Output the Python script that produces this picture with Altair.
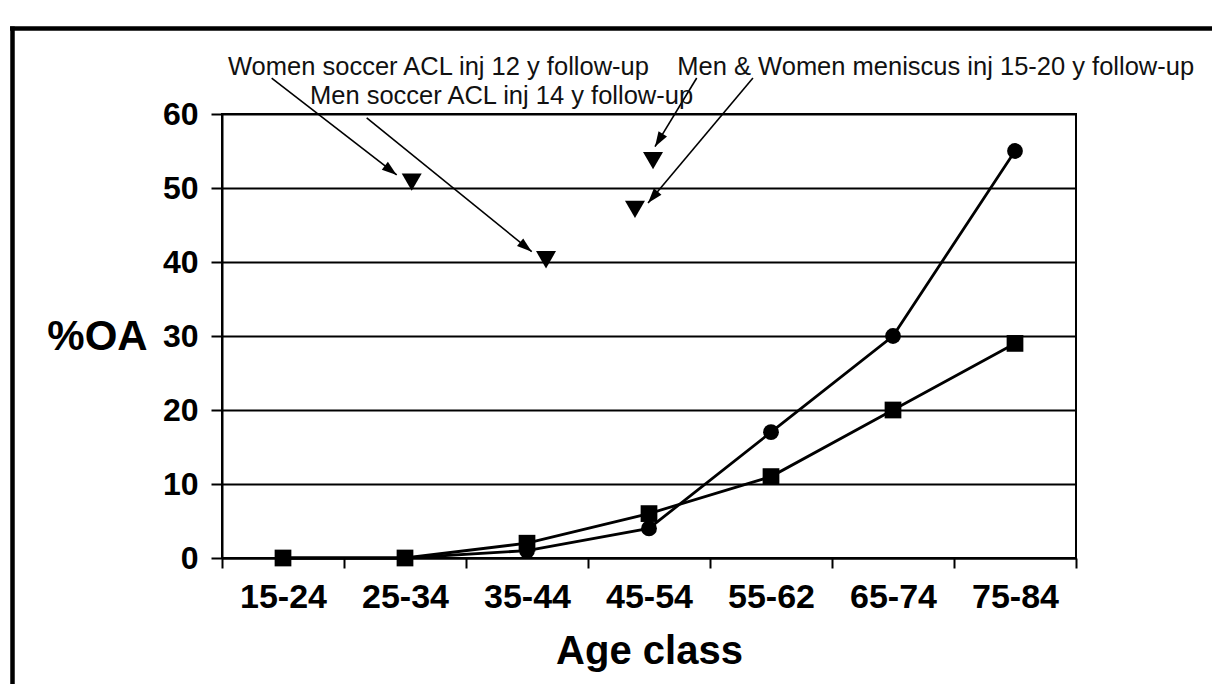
import math
import altair as alt
import pandas as pd

# ---------------- data ----------------
age_classes = ["15-24", "25-34", "35-44", "45-54", "55-62", "65-74", "75-84"]
oa_circles = [0, 0, 1, 4, 17, 30, 55]
oa_squares = [0, 0, 2, 6, 11, 20, 29]

# injury cohorts (position on the age-class axis in class units, %OA)
injury_names = ["Women soccer ACL", "Men soccer ACL", "Meniscus A", "Meniscus B"]
injury_pos = [1.555, 2.656, 3.533, 3.385]
injury_oa = [50.8, 40.3, 53.7, 47.1]

# annotation texts (position in axis units)
note_texts = [
    "Women soccer ACL inj 12 y follow-up",
    "Men soccer ACL inj 14 y follow-up",
    "Men & Women meniscus inj 15-20 y follow-up",
]
note_pos = [0.049, 0.721, 3.732]
note_oa = [65.27, 61.4, 65.27]

# arrows (start -> tip, in axis units)
arrow_x = [0.407, 1.186, 3.891, 4.352]
arrow_y = [64.86, 59.46, 64.86, 64.86]
arrow_x2 = [1.432, 2.539, 3.549, 3.492]
arrow_y2 = [51.76, 41.39, 55.58, 47.97]

# ---------------- layout ----------------
W, H = 854, 444
n = len(age_classes)
PX_X = W / n      # pixels per class unit
PX_Y = H / 60.0   # pixels per %OA

line_df = pd.DataFrame({
    "cls": age_classes * 2,
    "pos": [i + 0.5 for i in range(n)] * 2,
    "oa": oa_circles + oa_squares,
    "series": ["circles"] * n + ["squares"] * n,
})
inj_df = pd.DataFrame({"name": injury_names, "pos": injury_pos, "oa": injury_oa})
note_df = pd.DataFrame({"txt": note_texts, "pos": note_pos, "oa": note_oa})
angs = []
for x1, y1, x2, y2 in zip(arrow_x, arrow_y, arrow_x2, arrow_y2):
    dx = (x2 - x1) * PX_X
    dy = -(y2 - y1) * PX_Y
    angs.append(math.degrees(math.atan2(dx, -dy)) % 360)
arrow_df = pd.DataFrame({"pos": arrow_x, "oa": arrow_y, "pos2": arrow_x2, "oa2": arrow_y2, "ang": angs})

FONT = "Liberation Sans"
cats_js = "[" + ",".join("'" + c + "'" for c in age_classes) + "]"

xscale = alt.Scale(domain=[0, n], nice=False, zero=False)
yscale = alt.Scale(domain=[0, 60], nice=False)

xaxis = alt.Axis(
    values=list(range(n + 1)), title="Age class",
    labelExpr=f"datum.value < {n} ? {cats_js}[datum.value] : ''",
    labelOffset=PX_X / 2, labelPadding=12, labelFont=FONT, labelFontSize=34,
    labelFontWeight="bold", labelColor="black", labelFlush=False, labelOverlap=False,
    labelAlign="center", tickSize=10, tickWidth=2, tickColor="black",
    domainColor="black", domainWidth=2, grid=False,
    titleFont=FONT, titleFontSize=40, titleFontWeight="bold", titleColor="black",
    titleY=105, titleBaseline="alphabetic",
)
yaxis = alt.Axis(
    values=list(range(0, 61, 10)), title="%OA",
    labelPadding=13, labelFont=FONT, labelFontSize=32, labelFontWeight="bold",
    labelColor="black", tickSize=11, tickWidth=2, tickColor="black",
    domainColor="black", domainWidth=2, grid=True, gridColor="black", gridWidth=2,
    titleFont=FONT, titleFontSize=42, titleFontWeight="bold", titleColor="black",
    titleAngle=0, titleAlign="center", titleBaseline="middle", titleX=-125, titleY=222,
)

X = alt.X("pos:Q", scale=xscale, axis=xaxis)
Y = alt.Y("oa:Q", scale=yscale, axis=yaxis)

base_lines = alt.Chart(line_df)
lines = base_lines.mark_line(color="black", strokeWidth=2.8).encode(
    x=X, y=Y, detail="series:N", order="pos:Q"
)
circles = base_lines.transform_filter(alt.datum.series == "circles").mark_point(
    shape="circle", filled=True, color="black", size=250, opacity=1
).encode(x=X, y=Y)
squares = base_lines.transform_filter(alt.datum.series == "squares").mark_point(
    shape="square", filled=True, color="black", size=280, opacity=1
).encode(x=X, y=Y)

injuries = alt.Chart(inj_df).mark_point(
    shape="triangle-down", filled=True, color="black", size=400, opacity=1
).encode(x=X, y=Y)

arrow_lines = alt.Chart(arrow_df).mark_rule(color="black", strokeWidth=1.6).encode(
    x=X, y=Y, x2="pos2:Q", y2="oa2:Q"
)
arrow_heads = alt.Chart(arrow_df).mark_point(
    shape="M0,0L-0.33,1L0.33,1Z", filled=True, color="black", size=900, opacity=1, strokeWidth=0
).encode(
    x=alt.X("pos2:Q", scale=xscale, axis=xaxis),
    y=alt.Y("oa2:Q", scale=yscale, axis=yaxis),
    angle=alt.Angle("ang:Q", scale=None),
)

notes = alt.Chart(note_df).mark_text(
    align="left", baseline="alphabetic", font=FONT, fontSize=25.5, color="#111"
).encode(x=X, y=Y, text="txt:N")

# page frame decoration
frame = alt.Chart(pd.DataFrame({"k": [0]}))
top_thin = frame.mark_rule(color="#333", strokeWidth=2).encode(
    x=alt.value(-212), x2=alt.value(990), y=alt.value(-108))
top_thick = frame.mark_rule(color="black", strokeWidth=4.5).encode(
    x=alt.value(-212), x2=alt.value(990), y=alt.value(-85.5))
left_thick = frame.mark_rule(color="black", strokeWidth=4.5).encode(
    x=alt.value(-209.5), y=alt.value(-87.5), y2=alt.value(600))

chart = alt.layer(
    top_thin, top_thick, left_thick,
    lines, circles, squares, injuries, arrow_lines, arrow_heads, notes,
).properties(
    width=W, height=H,
    autosize=alt.AutoSizeParams(type="none"),
    padding={"left": 214, "top": 106, "right": 136, "bottom": 126},
    background="white",
).configure_view(stroke="black", strokeWidth=2)

chart.save("out.html", embed_options={"renderer": "svg", "actions": False})
